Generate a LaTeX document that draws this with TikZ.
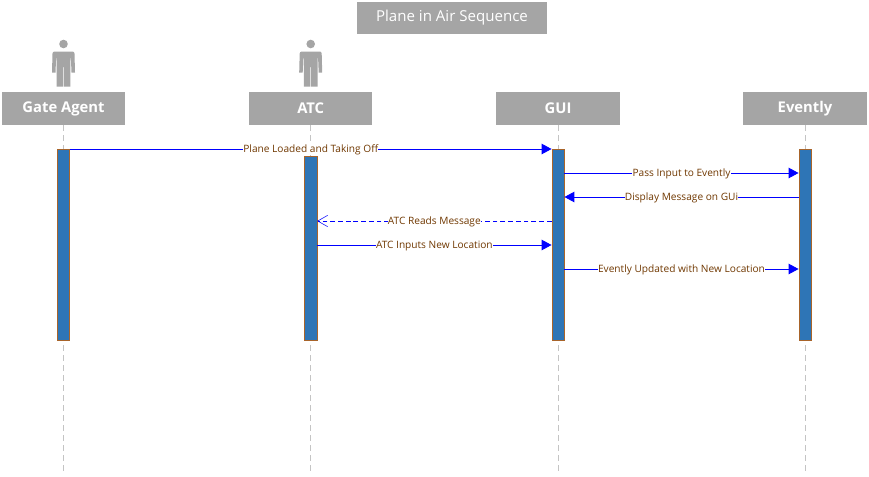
\documentclass[tikz,border=0pt]{standalone}
\usepackage{fontspec}
\setmainfont{Open Sans}
\usetikzlibrary{arrows.meta}
\definecolor{hdr}{HTML}{A5A5A5}
\definecolor{barfill}{HTML}{2E75B6}
\definecolor{barline}{HTML}{A8642A}
\definecolor{lbl}{HTML}{703800}
\definecolor{lifeln}{HTML}{C4C4C4}
\definecolor{msg}{HTML}{0000FF}
\tikzset{
  px/.style={x=0.75pt,y=-0.75pt},
  headbox/.style={fill=hdr,text=white,inner sep=0pt,minimum width=92.6pt,minimum height=24.4pt,font=\fontsize{11.1pt}{12pt}\selectfont\bfseries},
  titlebox/.style={fill=hdr,text=white,inner sep=0pt,minimum width=142.5pt,minimum height=24pt,font=\fontsize{11.3pt}{12pt}\selectfont},
  actbar/.style={fill=barfill,draw=barline,line width=0.45pt,inner sep=0pt,minimum width=9.2pt},
  life/.style={draw=lifeln,line width=0.7pt,dash pattern=on 4.5pt off 3pt},
  msgline/.style={draw=msg,line width=0.7pt},
  solidmsg/.style={msgline,-{Triangle[length=7.4pt,width=7.8pt,fill=msg]}},
  retmsg/.style={msgline,line width=0.65pt,dash pattern=on 3.6pt off 2.2pt,-{Straight Barb[length=7.5pt,width=8.5pt,line width=0.4pt]}},
  msglabel/.style={fill=white,text=lbl,inner xsep=0.2pt,inner ysep=0.2pt,yshift=-0.6pt,font=\fontsize{7.6pt}{9pt}\selectfont},
  person/.style={fill=hdr,draw=none}
}
\newcommand{\actorfig}[1]{%
  \begin{scope}[shift={(#1,0)}]
    \fill[person] (0,44) circle (4.3);
    \fill[person] (-11,53.5) to[out=90,in=180] (-9,51.5) -- (9,51.5) to[out=0,in=90] (11,53.5)
      -- (11.5,72.5) -- (8,72.5) -- (7.4,58) -- (6.8,58) -- (6.8,86.7) -- (0.4,86.7) -- (0.4,67) -- (-0.4,67) -- (-0.4,86.7)
      -- (-6.8,86.7) -- (-6.8,58) -- (-7.4,58) -- (-8,72.5) -- (-11.5,72.5) -- cycle;
  \end{scope}}
\begin{document}
\begin{tikzpicture}[px]
\useasboundingbox (0,0) rectangle (869,476);
\node[titlebox] (title) at (452,17.5) {\raisebox{-1pt}{Plane in Air Sequence}};
\actorfig{63.5}
\actorfig{310.7}
\node[headbox] (h1) at (63.5,108.5) {\raisebox{-1.2pt}{Gate Agent}};
\node[headbox] (h2) at (310.7,108.5) {\raisebox{-1.2pt}{ATC}};
\node[headbox] (h3) at (558,108.5) {\raisebox{-1.2pt}{GUI}};
\node[headbox] (h4) at (805,108.5) {\raisebox{-1.2pt}{Evently}};
\coordinate (e1) at (63.5,474);
\coordinate (e2) at (310.7,474);
\coordinate (e3) at (558,474);
\coordinate (e4) at (805,474);
\draw[life] (h1.south) -- (e1);
\draw[life] (h2.south) -- (e2);
\draw[life] (h3.south) -- (e3);
\draw[life] (h4.south) -- (e4);
\node[actbar,minimum height=143.4pt] (b1) at (63.5,245) {};
\node[actbar,minimum height=138.2pt] (b2) at (310.7,248.5) {};
\node[actbar,minimum height=143.4pt] (b3) at (558,245) {};
\node[actbar,minimum height=143.4pt] (b4) at (805,245) {};
\draw[solidmsg] (b1.east |- 0,149) -- node[msglabel,pos=0.5] (m1) {Plane Loaded and Taking Off} (b3.west |- 0,149);
\draw[solidmsg] (b3.east |- 0,173) -- node[msglabel] (m2) {Pass Input to Evently} (b4.west |- 0,173);
\draw[solidmsg] (b4.west |- 0,197) -- node[msglabel] (m3) {Display Message on GUi} (b3.east |- 0,197);
\draw[retmsg] (b3.west |- 0,221) -- node[msglabel] (m4) {ATC Reads Message} (b2.east |- 0,221);
\draw[solidmsg] (b2.east |- 0,245) -- node[msglabel] (m5) {ATC Inputs New Location} (b3.west |- 0,245);
\draw[solidmsg] (b3.east |- 0,269) -- node[msglabel] (m6) {Evently Updated with New Location} (b4.west |- 0,269);
\end{tikzpicture}
\end{document}
